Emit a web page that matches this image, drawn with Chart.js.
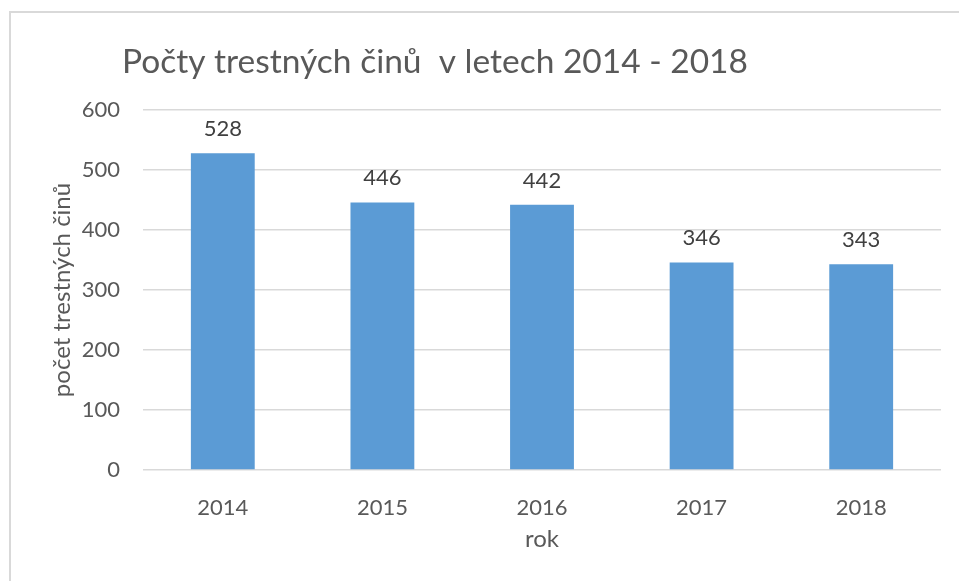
<!DOCTYPE html>
<html>
<head>
<meta charset="utf-8">
<script src="https://cdn.jsdelivr.net/npm/chart.js@4"></script>
<style>
    html, body { margin: 0; padding: 0; background: #fff; }
    #wrap { position: absolute; left: 0; top: 0; width: 959px; height: 581px; }
</style>
</head>
<body>
<div id="wrap"><canvas id="crimeChart" width="959" height="581"></canvas></div>
<script>
// Data
const years = ['2014', '2015', '2016', '2017', '2018'];
const crimeCounts = [528, 446, 442, 346, 343];
const yTicks = [0, 100, 200, 300, 400, 500, 600];

const chartTitle = 'Počty trestných činů  v letech 2014 - 2018';
const yTitle = 'počet trestných činů';
const xTitle = 'rok';

const textColor = '#595959';
const fontFamily = 'Lato, "Open Sans", sans-serif';

// Light frame around the whole chart (cut off at right/bottom like the screenshot)
const framePlugin = {
    id: 'frame',
    beforeDraw(chart) {
        const ctx = chart.ctx;
        ctx.save();
        ctx.strokeStyle = '#d9d9d9';
        ctx.lineWidth = 2;
        ctx.strokeRect(10, 12, 1200, 1200);
        ctx.restore();
    }
};

// Title drawn left-ish like in the Excel chart
const titlePlugin = {
    id: 'leftTitle',
    afterDraw(chart) {
        const ctx = chart.ctx;
        ctx.save();
        ctx.font = '33.5px ' + fontFamily;
        ctx.fillStyle = textColor;
        ctx.textAlign = 'left';
        ctx.textBaseline = 'alphabetic';
        ctx.fillText(chartTitle, 122, 73);
        ctx.restore();
    }
};

// Value labels above every bar
const valueLabels = {
    id: 'valueLabels',
    afterDatasetsDraw(chart) {
        const ctx = chart.ctx;
        const meta = chart.getDatasetMeta(0);
        ctx.save();
        ctx.font = '22px ' + fontFamily;
        ctx.fillStyle = '#404040';
        ctx.textAlign = 'center';
        ctx.textBaseline = 'middle';
        meta.data.forEach((bar, i) => {
            ctx.fillText(String(crimeCounts[i]), bar.x, bar.y - 24);
        });
        ctx.restore();
    }
};

const ctx = document.getElementById('crimeChart').getContext('2d');
new Chart(ctx, {
    type: 'bar',
    data: {
        labels: years,
        datasets: [{
            label: yTitle,
            data: crimeCounts,
            backgroundColor: '#5b9bd5',
            borderWidth: 0,
            barPercentage: 0.4,
            categoryPercentage: 1.0
        }]
    },
    options: {
        responsive: false,
        animation: false,
        layout: {
            padding: { left: 0, right: 18, top: 110, bottom: 0 }
        },
        plugins: {
            legend: { display: false },
            title: { display: false },
            tooltip: { enabled: false }
        },
        scales: {
            x: {
                grid: { display: false },
                border: { display: false },
                ticks: {
                    color: textColor,
                    font: { family: fontFamily, size: 22 },
                    padding: 17
                },
                title: {
                    display: true,
                    text: xTitle,
                    color: textColor,
                    font: { family: fontFamily, size: 24 },
                    padding: { top: 0, bottom: 27 }
                },
                afterFit(scale) { scale.height = 111; }
            },
            y: {
                min: 0,
                max: 600,
                afterBuildTicks(scale) {
                    scale.ticks = yTicks.map(v => ({ value: v }));
                },
                grid: {
                    color: '#d9d9d9',
                    lineWidth: 1.5,
                    drawTicks: false
                },
                border: { display: false },
                ticks: {
                    color: textColor,
                    font: { family: fontFamily, size: 22 },
                    padding: 23
                },
                title: {
                    display: true,
                    text: yTitle,
                    color: textColor,
                    font: { family: fontFamily, size: 24 },
                    padding: { top: 48, bottom: 0 }
                },
                afterFit(scale) { scale.width = 143; }
            }
        }
    },
    plugins: [framePlugin, titlePlugin, valueLabels]
});
</script>
</body>
</html>
